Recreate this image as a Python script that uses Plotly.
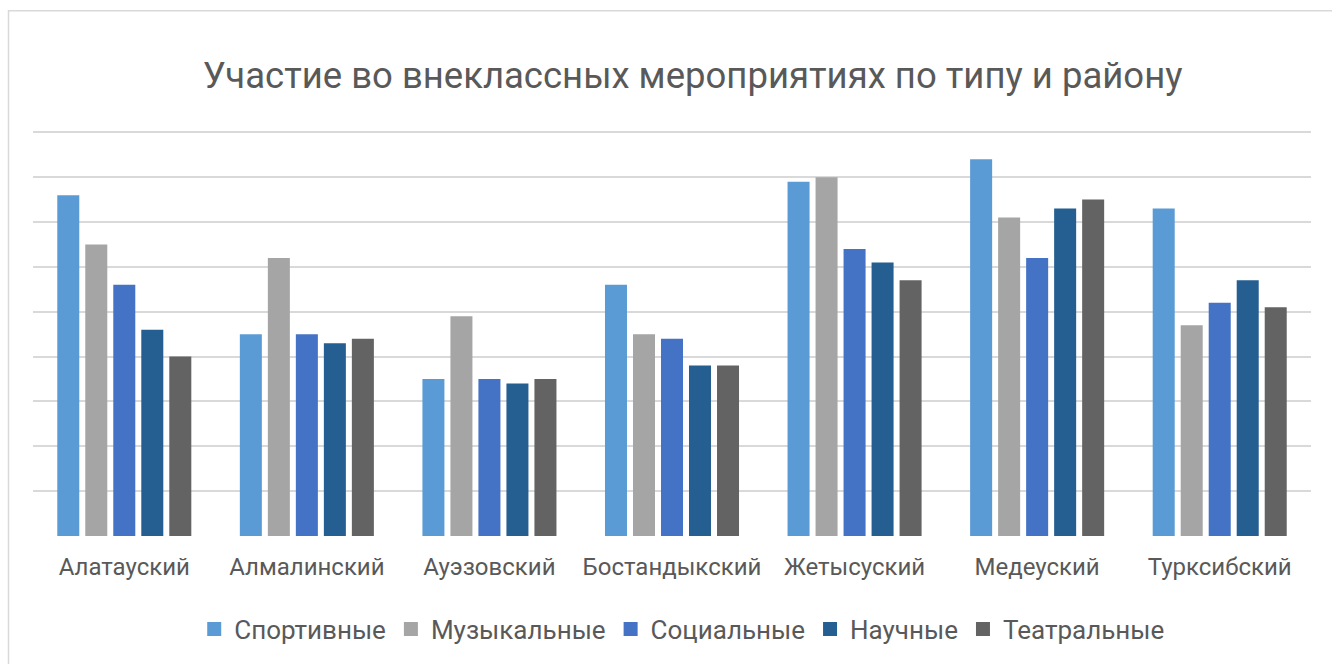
import plotly.graph_objects as go

districts = ["Алатауский", "Алмалинский", "Ауэзовский", "Бостандыкский",
             "Жетысуский", "Медеуский", "Турксибский"]
sport = [76, 45, 35, 56, 79, 84, 73]
music = [65, 62, 49, 45, 80, 71, 47]
social = [56, 45, 35, 44, 64, 62, 52]
science = [46, 43, 34, 38, 61, 73, 57]
theatre = [40, 44, 35, 38, 57, 75, 51]

series = [
    ("Спортивные", sport, "#5B9BD5"),
    ("Музыкальные", music, "#A5A5A5"),
    ("Социальные", social, "#4472C4"),
    ("Научные", science, "#255E91"),
    ("Театральные", theatre, "#636363"),
]

FONT = "Roboto"
TXT = "#595959"

fig = go.Figure()
for name, vals, col in series:
    fig.add_trace(go.Bar(x=districts, y=vals, name=name, showlegend=False,
                         marker=dict(color=col, line=dict(width=0))))
for name, vals, col in series:
    fig.add_trace(go.Scatter(x=[None], y=[None], name=name, mode="markers",
                             marker=dict(symbol="square", size=14, color=col)))

fig.update_layout(
    width=1332, height=664,
    paper_bgcolor="white", plot_bgcolor="white",
    margin=dict(l=33, r=21, t=131, b=127),
    barmode="group", bargap=0.233, bargroupgap=0.214,
    title=dict(text="Участие во внеклассных мероприятиях по типу и району",
               x=0.52, xanchor="center", y=1 - 75 / 664, yanchor="middle",
               font=dict(family=FONT, size=36.5, color=TXT)),
    font=dict(family=FONT, color=TXT),
    showlegend=True,
    legend=dict(orientation="h", x=0.508, xanchor="center", y=-0.227, yanchor="middle",
                font=dict(family=FONT, size=26, color=TXT),
                itemwidth=30, tracegroupgap=0, traceorder="normal"),
    xaxis=dict(showgrid=False, showline=False, zeroline=False,
               ticks="outside", ticklen=9, tickcolor="rgba(0,0,0,0)",
               tickfont=dict(family=FONT, size=24, color=TXT)),
    yaxis=dict(range=[0, 90.3], dtick=10, showgrid=True, gridcolor="#D9D9D9", gridwidth=1.5,
               zeroline=False, showticklabels=False, showline=False),
    shapes=[dict(type="rect", xref="paper", yref="paper",
                 x0=(8.5 - 33) / 1278, x1=1.05, y0=-0.4, y1=(537 - 10.5) / 406,
                 line=dict(color="#D9D9D9", width=1.5), fillcolor="rgba(0,0,0,0)", layer="below")],
)

fig.write_html("out.html", config={"displayModeBar": False},
               post_script="document.body.style.margin='0px';")
